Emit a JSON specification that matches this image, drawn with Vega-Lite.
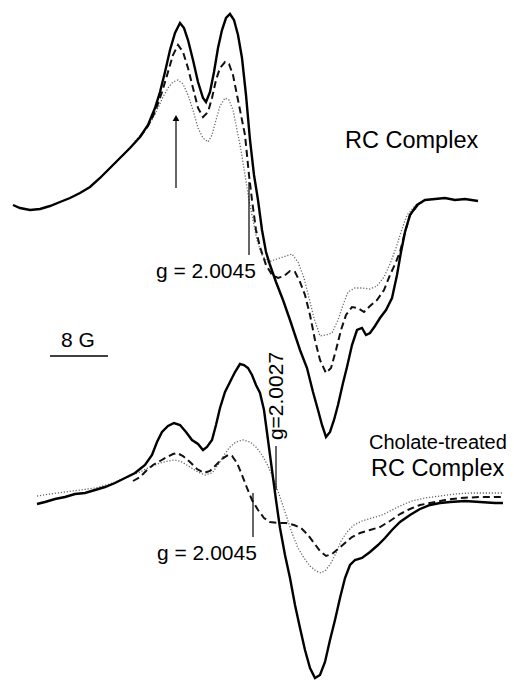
{
  "$schema": "https://vega.github.io/schema/vega-lite/v6.json",
  "width": 514,
  "height": 685,
  "autosize": {"type": "fit", "contains": "padding"},
  "padding": 0,
  "background": "white",
  "config": {"view": {"stroke": null}, "font": "Liberation Sans"},
  "datasets": {
    "traces": [
      {"spectrum": "RC", "trace": "solid", "field": 13, "signal": 205},
      {"spectrum": "RC", "trace": "solid", "field": 20, "signal": 208},
      {"spectrum": "RC", "trace": "solid", "field": 30, "signal": 210},
      {"spectrum": "RC", "trace": "solid", "field": 40, "signal": 209},
      {"spectrum": "RC", "trace": "solid", "field": 50, "signal": 206},
      {"spectrum": "RC", "trace": "solid", "field": 60, "signal": 202},
      {"spectrum": "RC", "trace": "solid", "field": 70, "signal": 198},
      {"spectrum": "RC", "trace": "solid", "field": 80, "signal": 193},
      {"spectrum": "RC", "trace": "solid", "field": 90, "signal": 187},
      {"spectrum": "RC", "trace": "solid", "field": 100, "signal": 178},
      {"spectrum": "RC", "trace": "solid", "field": 110, "signal": 168},
      {"spectrum": "RC", "trace": "solid", "field": 120, "signal": 158},
      {"spectrum": "RC", "trace": "solid", "field": 130, "signal": 148},
      {"spectrum": "RC", "trace": "solid", "field": 140, "signal": 137},
      {"spectrum": "RC", "trace": "solid", "field": 148, "signal": 125},
      {"spectrum": "RC", "trace": "solid", "field": 155, "signal": 108},
      {"spectrum": "RC", "trace": "solid", "field": 160, "signal": 92},
      {"spectrum": "RC", "trace": "solid", "field": 165, "signal": 72},
      {"spectrum": "RC", "trace": "solid", "field": 170, "signal": 50},
      {"spectrum": "RC", "trace": "solid", "field": 175, "signal": 33},
      {"spectrum": "RC", "trace": "solid", "field": 180, "signal": 23},
      {"spectrum": "RC", "trace": "solid", "field": 184, "signal": 28},
      {"spectrum": "RC", "trace": "solid", "field": 188, "signal": 40},
      {"spectrum": "RC", "trace": "solid", "field": 193, "signal": 60},
      {"spectrum": "RC", "trace": "solid", "field": 198, "signal": 82},
      {"spectrum": "RC", "trace": "solid", "field": 203, "signal": 98},
      {"spectrum": "RC", "trace": "solid", "field": 206, "signal": 102},
      {"spectrum": "RC", "trace": "solid", "field": 210, "signal": 92},
      {"spectrum": "RC", "trace": "solid", "field": 214, "signal": 72},
      {"spectrum": "RC", "trace": "solid", "field": 218, "signal": 48},
      {"spectrum": "RC", "trace": "solid", "field": 222, "signal": 30},
      {"spectrum": "RC", "trace": "solid", "field": 226, "signal": 18},
      {"spectrum": "RC", "trace": "solid", "field": 230, "signal": 14},
      {"spectrum": "RC", "trace": "solid", "field": 234, "signal": 20},
      {"spectrum": "RC", "trace": "solid", "field": 238, "signal": 35},
      {"spectrum": "RC", "trace": "solid", "field": 242, "signal": 58},
      {"spectrum": "RC", "trace": "solid", "field": 246, "signal": 95},
      {"spectrum": "RC", "trace": "solid", "field": 250, "signal": 140},
      {"spectrum": "RC", "trace": "solid", "field": 254, "signal": 175},
      {"spectrum": "RC", "trace": "solid", "field": 258, "signal": 200},
      {"spectrum": "RC", "trace": "solid", "field": 262, "signal": 230},
      {"spectrum": "RC", "trace": "solid", "field": 266, "signal": 252},
      {"spectrum": "RC", "trace": "solid", "field": 270, "signal": 265},
      {"spectrum": "RC", "trace": "solid", "field": 276, "signal": 282},
      {"spectrum": "RC", "trace": "solid", "field": 283, "signal": 300},
      {"spectrum": "RC", "trace": "solid", "field": 290, "signal": 320},
      {"spectrum": "RC", "trace": "solid", "field": 295, "signal": 335},
      {"spectrum": "RC", "trace": "solid", "field": 300, "signal": 350},
      {"spectrum": "RC", "trace": "solid", "field": 307, "signal": 368},
      {"spectrum": "RC", "trace": "solid", "field": 313, "signal": 392},
      {"spectrum": "RC", "trace": "solid", "field": 318, "signal": 410},
      {"spectrum": "RC", "trace": "solid", "field": 322, "signal": 425},
      {"spectrum": "RC", "trace": "solid", "field": 326, "signal": 437},
      {"spectrum": "RC", "trace": "solid", "field": 330, "signal": 432},
      {"spectrum": "RC", "trace": "solid", "field": 334, "signal": 420},
      {"spectrum": "RC", "trace": "solid", "field": 338, "signal": 405},
      {"spectrum": "RC", "trace": "solid", "field": 343, "signal": 383},
      {"spectrum": "RC", "trace": "solid", "field": 347, "signal": 367},
      {"spectrum": "RC", "trace": "solid", "field": 352, "signal": 345},
      {"spectrum": "RC", "trace": "solid", "field": 357, "signal": 330},
      {"spectrum": "RC", "trace": "solid", "field": 362, "signal": 328},
      {"spectrum": "RC", "trace": "solid", "field": 366, "signal": 335},
      {"spectrum": "RC", "trace": "solid", "field": 370, "signal": 333},
      {"spectrum": "RC", "trace": "solid", "field": 375, "signal": 326},
      {"spectrum": "RC", "trace": "solid", "field": 380, "signal": 318},
      {"spectrum": "RC", "trace": "solid", "field": 386, "signal": 310},
      {"spectrum": "RC", "trace": "solid", "field": 392, "signal": 298},
      {"spectrum": "RC", "trace": "solid", "field": 397, "signal": 275},
      {"spectrum": "RC", "trace": "solid", "field": 401, "signal": 252},
      {"spectrum": "RC", "trace": "solid", "field": 405, "signal": 232},
      {"spectrum": "RC", "trace": "solid", "field": 410, "signal": 215},
      {"spectrum": "RC", "trace": "solid", "field": 417, "signal": 205},
      {"spectrum": "RC", "trace": "solid", "field": 425, "signal": 200},
      {"spectrum": "RC", "trace": "solid", "field": 435, "signal": 199},
      {"spectrum": "RC", "trace": "solid", "field": 445, "signal": 198},
      {"spectrum": "RC", "trace": "solid", "field": 455, "signal": 200},
      {"spectrum": "RC", "trace": "solid", "field": 465, "signal": 199},
      {"spectrum": "RC", "trace": "solid", "field": 478, "signal": 201},

      {"spectrum": "RC", "trace": "dashed", "field": 140, "signal": 137},
      {"spectrum": "RC", "trace": "dashed", "field": 148, "signal": 126},
      {"spectrum": "RC", "trace": "dashed", "field": 155, "signal": 112},
      {"spectrum": "RC", "trace": "dashed", "field": 162, "signal": 92},
      {"spectrum": "RC", "trace": "dashed", "field": 168, "signal": 72},
      {"spectrum": "RC", "trace": "dashed", "field": 173, "signal": 55},
      {"spectrum": "RC", "trace": "dashed", "field": 178, "signal": 45},
      {"spectrum": "RC", "trace": "dashed", "field": 183, "signal": 52},
      {"spectrum": "RC", "trace": "dashed", "field": 188, "signal": 68},
      {"spectrum": "RC", "trace": "dashed", "field": 193, "signal": 88},
      {"spectrum": "RC", "trace": "dashed", "field": 198, "signal": 108},
      {"spectrum": "RC", "trace": "dashed", "field": 203, "signal": 117},
      {"spectrum": "RC", "trace": "dashed", "field": 208, "signal": 112},
      {"spectrum": "RC", "trace": "dashed", "field": 212, "signal": 98},
      {"spectrum": "RC", "trace": "dashed", "field": 216, "signal": 80},
      {"spectrum": "RC", "trace": "dashed", "field": 220, "signal": 68},
      {"spectrum": "RC", "trace": "dashed", "field": 225, "signal": 62},
      {"spectrum": "RC", "trace": "dashed", "field": 229, "signal": 64},
      {"spectrum": "RC", "trace": "dashed", "field": 233, "signal": 75},
      {"spectrum": "RC", "trace": "dashed", "field": 237, "signal": 95},
      {"spectrum": "RC", "trace": "dashed", "field": 241, "signal": 115},
      {"spectrum": "RC", "trace": "dashed", "field": 245, "signal": 135},
      {"spectrum": "RC", "trace": "dashed", "field": 249, "signal": 175},
      {"spectrum": "RC", "trace": "dashed", "field": 252, "signal": 200},
      {"spectrum": "RC", "trace": "dashed", "field": 256, "signal": 230},
      {"spectrum": "RC", "trace": "dashed", "field": 260, "signal": 247},
      {"spectrum": "RC", "trace": "dashed", "field": 266, "signal": 265},
      {"spectrum": "RC", "trace": "dashed", "field": 272, "signal": 275},
      {"spectrum": "RC", "trace": "dashed", "field": 278, "signal": 278},
      {"spectrum": "RC", "trace": "dashed", "field": 284, "signal": 276},
      {"spectrum": "RC", "trace": "dashed", "field": 290, "signal": 271},
      {"spectrum": "RC", "trace": "dashed", "field": 295, "signal": 272},
      {"spectrum": "RC", "trace": "dashed", "field": 300, "signal": 282},
      {"spectrum": "RC", "trace": "dashed", "field": 305, "signal": 295},
      {"spectrum": "RC", "trace": "dashed", "field": 310, "signal": 315},
      {"spectrum": "RC", "trace": "dashed", "field": 315, "signal": 340},
      {"spectrum": "RC", "trace": "dashed", "field": 320, "signal": 360},
      {"spectrum": "RC", "trace": "dashed", "field": 326, "signal": 373},
      {"spectrum": "RC", "trace": "dashed", "field": 331, "signal": 368},
      {"spectrum": "RC", "trace": "dashed", "field": 336, "signal": 350},
      {"spectrum": "RC", "trace": "dashed", "field": 341, "signal": 330},
      {"spectrum": "RC", "trace": "dashed", "field": 346, "signal": 315},
      {"spectrum": "RC", "trace": "dashed", "field": 352, "signal": 307},
      {"spectrum": "RC", "trace": "dashed", "field": 358, "signal": 308},
      {"spectrum": "RC", "trace": "dashed", "field": 364, "signal": 312},
      {"spectrum": "RC", "trace": "dashed", "field": 370, "signal": 306},
      {"spectrum": "RC", "trace": "dashed", "field": 377, "signal": 300},
      {"spectrum": "RC", "trace": "dashed", "field": 384, "signal": 290},
      {"spectrum": "RC", "trace": "dashed", "field": 390, "signal": 275},
      {"spectrum": "RC", "trace": "dashed", "field": 396, "signal": 262},
      {"spectrum": "RC", "trace": "dashed", "field": 400, "signal": 252},
      {"spectrum": "RC", "trace": "dashed", "field": 405, "signal": 232},
      {"spectrum": "RC", "trace": "dashed", "field": 410, "signal": 215},
      {"spectrum": "RC", "trace": "dashed", "field": 418, "signal": 205},

      {"spectrum": "RC", "trace": "dotted", "field": 135, "signal": 141},
      {"spectrum": "RC", "trace": "dotted", "field": 145, "signal": 130},
      {"spectrum": "RC", "trace": "dotted", "field": 152, "signal": 120},
      {"spectrum": "RC", "trace": "dotted", "field": 158, "signal": 108},
      {"spectrum": "RC", "trace": "dotted", "field": 163, "signal": 97},
      {"spectrum": "RC", "trace": "dotted", "field": 168, "signal": 88},
      {"spectrum": "RC", "trace": "dotted", "field": 173, "signal": 82},
      {"spectrum": "RC", "trace": "dotted", "field": 178, "signal": 80},
      {"spectrum": "RC", "trace": "dotted", "field": 183, "signal": 84},
      {"spectrum": "RC", "trace": "dotted", "field": 188, "signal": 95},
      {"spectrum": "RC", "trace": "dotted", "field": 193, "signal": 110},
      {"spectrum": "RC", "trace": "dotted", "field": 198, "signal": 128},
      {"spectrum": "RC", "trace": "dotted", "field": 203, "signal": 138},
      {"spectrum": "RC", "trace": "dotted", "field": 208, "signal": 142},
      {"spectrum": "RC", "trace": "dotted", "field": 212, "signal": 135},
      {"spectrum": "RC", "trace": "dotted", "field": 216, "signal": 120},
      {"spectrum": "RC", "trace": "dotted", "field": 220, "signal": 106},
      {"spectrum": "RC", "trace": "dotted", "field": 225, "signal": 98},
      {"spectrum": "RC", "trace": "dotted", "field": 229, "signal": 100},
      {"spectrum": "RC", "trace": "dotted", "field": 233, "signal": 110},
      {"spectrum": "RC", "trace": "dotted", "field": 237, "signal": 130},
      {"spectrum": "RC", "trace": "dotted", "field": 241, "signal": 150},
      {"spectrum": "RC", "trace": "dotted", "field": 245, "signal": 175},
      {"spectrum": "RC", "trace": "dotted", "field": 249, "signal": 200},
      {"spectrum": "RC", "trace": "dotted", "field": 253, "signal": 220},
      {"spectrum": "RC", "trace": "dotted", "field": 257, "signal": 240},
      {"spectrum": "RC", "trace": "dotted", "field": 262, "signal": 255},
      {"spectrum": "RC", "trace": "dotted", "field": 268, "signal": 262},
      {"spectrum": "RC", "trace": "dotted", "field": 274, "signal": 260},
      {"spectrum": "RC", "trace": "dotted", "field": 280, "signal": 258},
      {"spectrum": "RC", "trace": "dotted", "field": 286, "signal": 256},
      {"spectrum": "RC", "trace": "dotted", "field": 292, "signal": 254},
      {"spectrum": "RC", "trace": "dotted", "field": 298, "signal": 262},
      {"spectrum": "RC", "trace": "dotted", "field": 304, "signal": 278},
      {"spectrum": "RC", "trace": "dotted", "field": 309, "signal": 298},
      {"spectrum": "RC", "trace": "dotted", "field": 314, "signal": 318},
      {"spectrum": "RC", "trace": "dotted", "field": 320, "signal": 336},
      {"spectrum": "RC", "trace": "dotted", "field": 326, "signal": 335},
      {"spectrum": "RC", "trace": "dotted", "field": 332, "signal": 333},
      {"spectrum": "RC", "trace": "dotted", "field": 338, "signal": 320},
      {"spectrum": "RC", "trace": "dotted", "field": 343, "signal": 305},
      {"spectrum": "RC", "trace": "dotted", "field": 348, "signal": 292},
      {"spectrum": "RC", "trace": "dotted", "field": 355, "signal": 288},
      {"spectrum": "RC", "trace": "dotted", "field": 362, "signal": 288},
      {"spectrum": "RC", "trace": "dotted", "field": 370, "signal": 289},
      {"spectrum": "RC", "trace": "dotted", "field": 377, "signal": 286},
      {"spectrum": "RC", "trace": "dotted", "field": 384, "signal": 277},
      {"spectrum": "RC", "trace": "dotted", "field": 390, "signal": 264},
      {"spectrum": "RC", "trace": "dotted", "field": 396, "signal": 248},
      {"spectrum": "RC", "trace": "dotted", "field": 401, "signal": 232},
      {"spectrum": "RC", "trace": "dotted", "field": 407, "signal": 215},
      {"spectrum": "RC", "trace": "dotted", "field": 414, "signal": 207},
      {"spectrum": "RC", "trace": "dotted", "field": 422, "signal": 203},

      {"spectrum": "Cholate", "trace": "solid", "field": 37, "signal": 504},
      {"spectrum": "Cholate", "trace": "solid", "field": 45, "signal": 502},
      {"spectrum": "Cholate", "trace": "solid", "field": 55, "signal": 499},
      {"spectrum": "Cholate", "trace": "solid", "field": 65, "signal": 497},
      {"spectrum": "Cholate", "trace": "solid", "field": 75, "signal": 494},
      {"spectrum": "Cholate", "trace": "solid", "field": 85, "signal": 493},
      {"spectrum": "Cholate", "trace": "solid", "field": 95, "signal": 490},
      {"spectrum": "Cholate", "trace": "solid", "field": 105, "signal": 487},
      {"spectrum": "Cholate", "trace": "solid", "field": 115, "signal": 483},
      {"spectrum": "Cholate", "trace": "solid", "field": 125, "signal": 478},
      {"spectrum": "Cholate", "trace": "solid", "field": 135, "signal": 473},
      {"spectrum": "Cholate", "trace": "solid", "field": 145, "signal": 465},
      {"spectrum": "Cholate", "trace": "solid", "field": 152, "signal": 455},
      {"spectrum": "Cholate", "trace": "solid", "field": 157, "signal": 442},
      {"spectrum": "Cholate", "trace": "solid", "field": 162, "signal": 432},
      {"spectrum": "Cholate", "trace": "solid", "field": 168, "signal": 426},
      {"spectrum": "Cholate", "trace": "solid", "field": 174, "signal": 423},
      {"spectrum": "Cholate", "trace": "solid", "field": 180, "signal": 425},
      {"spectrum": "Cholate", "trace": "solid", "field": 186, "signal": 432},
      {"spectrum": "Cholate", "trace": "solid", "field": 192, "signal": 440},
      {"spectrum": "Cholate", "trace": "solid", "field": 198, "signal": 444},
      {"spectrum": "Cholate", "trace": "solid", "field": 203, "signal": 450},
      {"spectrum": "Cholate", "trace": "solid", "field": 207, "signal": 447},
      {"spectrum": "Cholate", "trace": "solid", "field": 212, "signal": 440},
      {"spectrum": "Cholate", "trace": "solid", "field": 216, "signal": 425},
      {"spectrum": "Cholate", "trace": "solid", "field": 220, "signal": 408},
      {"spectrum": "Cholate", "trace": "solid", "field": 225, "signal": 392},
      {"spectrum": "Cholate", "trace": "solid", "field": 230, "signal": 382},
      {"spectrum": "Cholate", "trace": "solid", "field": 235, "signal": 372},
      {"spectrum": "Cholate", "trace": "solid", "field": 240, "signal": 364},
      {"spectrum": "Cholate", "trace": "solid", "field": 244, "signal": 365},
      {"spectrum": "Cholate", "trace": "solid", "field": 248, "signal": 368},
      {"spectrum": "Cholate", "trace": "solid", "field": 252, "signal": 375},
      {"spectrum": "Cholate", "trace": "solid", "field": 256, "signal": 385},
      {"spectrum": "Cholate", "trace": "solid", "field": 260, "signal": 393},
      {"spectrum": "Cholate", "trace": "solid", "field": 264, "signal": 410},
      {"spectrum": "Cholate", "trace": "solid", "field": 268, "signal": 440},
      {"spectrum": "Cholate", "trace": "solid", "field": 272, "signal": 470},
      {"spectrum": "Cholate", "trace": "solid", "field": 276, "signal": 500},
      {"spectrum": "Cholate", "trace": "solid", "field": 280, "signal": 528},
      {"spectrum": "Cholate", "trace": "solid", "field": 285, "signal": 555},
      {"spectrum": "Cholate", "trace": "solid", "field": 290, "signal": 578},
      {"spectrum": "Cholate", "trace": "solid", "field": 295, "signal": 605},
      {"spectrum": "Cholate", "trace": "solid", "field": 300, "signal": 628},
      {"spectrum": "Cholate", "trace": "solid", "field": 305, "signal": 650},
      {"spectrum": "Cholate", "trace": "solid", "field": 310, "signal": 668},
      {"spectrum": "Cholate", "trace": "solid", "field": 315, "signal": 678},
      {"spectrum": "Cholate", "trace": "solid", "field": 320, "signal": 675},
      {"spectrum": "Cholate", "trace": "solid", "field": 325, "signal": 662},
      {"spectrum": "Cholate", "trace": "solid", "field": 330, "signal": 640},
      {"spectrum": "Cholate", "trace": "solid", "field": 335, "signal": 620},
      {"spectrum": "Cholate", "trace": "solid", "field": 340, "signal": 598},
      {"spectrum": "Cholate", "trace": "solid", "field": 345, "signal": 578},
      {"spectrum": "Cholate", "trace": "solid", "field": 350, "signal": 565},
      {"spectrum": "Cholate", "trace": "solid", "field": 355, "signal": 560},
      {"spectrum": "Cholate", "trace": "solid", "field": 362, "signal": 558},
      {"spectrum": "Cholate", "trace": "solid", "field": 370, "signal": 552},
      {"spectrum": "Cholate", "trace": "solid", "field": 378, "signal": 545},
      {"spectrum": "Cholate", "trace": "solid", "field": 385, "signal": 538},
      {"spectrum": "Cholate", "trace": "solid", "field": 392, "signal": 530},
      {"spectrum": "Cholate", "trace": "solid", "field": 400, "signal": 522},
      {"spectrum": "Cholate", "trace": "solid", "field": 410, "signal": 515},
      {"spectrum": "Cholate", "trace": "solid", "field": 420, "signal": 509},
      {"spectrum": "Cholate", "trace": "solid", "field": 430, "signal": 505},
      {"spectrum": "Cholate", "trace": "solid", "field": 440, "signal": 503},
      {"spectrum": "Cholate", "trace": "solid", "field": 450, "signal": 502},
      {"spectrum": "Cholate", "trace": "solid", "field": 465, "signal": 501},
      {"spectrum": "Cholate", "trace": "solid", "field": 480, "signal": 502},
      {"spectrum": "Cholate", "trace": "solid", "field": 495, "signal": 503},
      {"spectrum": "Cholate", "trace": "solid", "field": 503, "signal": 503},

      {"spectrum": "Cholate", "trace": "dashed", "field": 133, "signal": 481},
      {"spectrum": "Cholate", "trace": "dashed", "field": 140, "signal": 477},
      {"spectrum": "Cholate", "trace": "dashed", "field": 147, "signal": 470},
      {"spectrum": "Cholate", "trace": "dashed", "field": 153, "signal": 465},
      {"spectrum": "Cholate", "trace": "dashed", "field": 160, "signal": 461},
      {"spectrum": "Cholate", "trace": "dashed", "field": 167, "signal": 457},
      {"spectrum": "Cholate", "trace": "dashed", "field": 173, "signal": 454},
      {"spectrum": "Cholate", "trace": "dashed", "field": 177, "signal": 453},
      {"spectrum": "Cholate", "trace": "dashed", "field": 183, "signal": 456},
      {"spectrum": "Cholate", "trace": "dashed", "field": 190, "signal": 462},
      {"spectrum": "Cholate", "trace": "dashed", "field": 197, "signal": 469},
      {"spectrum": "Cholate", "trace": "dashed", "field": 204, "signal": 473},
      {"spectrum": "Cholate", "trace": "dashed", "field": 210, "signal": 471},
      {"spectrum": "Cholate", "trace": "dashed", "field": 216, "signal": 465},
      {"spectrum": "Cholate", "trace": "dashed", "field": 222, "signal": 459},
      {"spectrum": "Cholate", "trace": "dashed", "field": 228, "signal": 455},
      {"spectrum": "Cholate", "trace": "dashed", "field": 232, "signal": 456},
      {"spectrum": "Cholate", "trace": "dashed", "field": 237, "signal": 463},
      {"spectrum": "Cholate", "trace": "dashed", "field": 242, "signal": 475},
      {"spectrum": "Cholate", "trace": "dashed", "field": 247, "signal": 488},
      {"spectrum": "Cholate", "trace": "dashed", "field": 252, "signal": 500},
      {"spectrum": "Cholate", "trace": "dashed", "field": 258, "signal": 510},
      {"spectrum": "Cholate", "trace": "dashed", "field": 264, "signal": 518},
      {"spectrum": "Cholate", "trace": "dashed", "field": 270, "signal": 522},
      {"spectrum": "Cholate", "trace": "dashed", "field": 278, "signal": 523},
      {"spectrum": "Cholate", "trace": "dashed", "field": 286, "signal": 523},
      {"spectrum": "Cholate", "trace": "dashed", "field": 294, "signal": 525},
      {"spectrum": "Cholate", "trace": "dashed", "field": 301, "signal": 528},
      {"spectrum": "Cholate", "trace": "dashed", "field": 308, "signal": 535},
      {"spectrum": "Cholate", "trace": "dashed", "field": 314, "signal": 543},
      {"spectrum": "Cholate", "trace": "dashed", "field": 320, "signal": 551},
      {"spectrum": "Cholate", "trace": "dashed", "field": 326, "signal": 556},
      {"spectrum": "Cholate", "trace": "dashed", "field": 332, "signal": 554},
      {"spectrum": "Cholate", "trace": "dashed", "field": 338, "signal": 549},
      {"spectrum": "Cholate", "trace": "dashed", "field": 345, "signal": 543},
      {"spectrum": "Cholate", "trace": "dashed", "field": 352, "signal": 537},
      {"spectrum": "Cholate", "trace": "dashed", "field": 360, "signal": 533},
      {"spectrum": "Cholate", "trace": "dashed", "field": 370, "signal": 530},
      {"spectrum": "Cholate", "trace": "dashed", "field": 380, "signal": 527},
      {"spectrum": "Cholate", "trace": "dashed", "field": 390, "signal": 521},
      {"spectrum": "Cholate", "trace": "dashed", "field": 400, "signal": 514},
      {"spectrum": "Cholate", "trace": "dashed", "field": 410, "signal": 509},
      {"spectrum": "Cholate", "trace": "dashed", "field": 420, "signal": 505},
      {"spectrum": "Cholate", "trace": "dashed", "field": 430, "signal": 503},
      {"spectrum": "Cholate", "trace": "dashed", "field": 445, "signal": 500},
      {"spectrum": "Cholate", "trace": "dashed", "field": 460, "signal": 498},
      {"spectrum": "Cholate", "trace": "dashed", "field": 480, "signal": 497},
      {"spectrum": "Cholate", "trace": "dashed", "field": 503, "signal": 497},

      {"spectrum": "Cholate", "trace": "dotted", "field": 37, "signal": 496},
      {"spectrum": "Cholate", "trace": "dotted", "field": 50, "signal": 494},
      {"spectrum": "Cholate", "trace": "dotted", "field": 65, "signal": 492},
      {"spectrum": "Cholate", "trace": "dotted", "field": 80, "signal": 490},
      {"spectrum": "Cholate", "trace": "dotted", "field": 95, "signal": 488},
      {"spectrum": "Cholate", "trace": "dotted", "field": 110, "signal": 484},
      {"spectrum": "Cholate", "trace": "dotted", "field": 125, "signal": 478},
      {"spectrum": "Cholate", "trace": "dotted", "field": 140, "signal": 472},
      {"spectrum": "Cholate", "trace": "dotted", "field": 150, "signal": 467},
      {"spectrum": "Cholate", "trace": "dotted", "field": 160, "signal": 463},
      {"spectrum": "Cholate", "trace": "dotted", "field": 168, "signal": 461},
      {"spectrum": "Cholate", "trace": "dotted", "field": 175, "signal": 460},
      {"spectrum": "Cholate", "trace": "dotted", "field": 182, "signal": 462},
      {"spectrum": "Cholate", "trace": "dotted", "field": 190, "signal": 467},
      {"spectrum": "Cholate", "trace": "dotted", "field": 198, "signal": 472},
      {"spectrum": "Cholate", "trace": "dotted", "field": 205, "signal": 475},
      {"spectrum": "Cholate", "trace": "dotted", "field": 212, "signal": 473},
      {"spectrum": "Cholate", "trace": "dotted", "field": 218, "signal": 465},
      {"spectrum": "Cholate", "trace": "dotted", "field": 224, "signal": 455},
      {"spectrum": "Cholate", "trace": "dotted", "field": 230, "signal": 447},
      {"spectrum": "Cholate", "trace": "dotted", "field": 236, "signal": 442},
      {"spectrum": "Cholate", "trace": "dotted", "field": 243, "signal": 440},
      {"spectrum": "Cholate", "trace": "dotted", "field": 250, "signal": 442},
      {"spectrum": "Cholate", "trace": "dotted", "field": 256, "signal": 447},
      {"spectrum": "Cholate", "trace": "dotted", "field": 262, "signal": 455},
      {"spectrum": "Cholate", "trace": "dotted", "field": 268, "signal": 466},
      {"spectrum": "Cholate", "trace": "dotted", "field": 274, "signal": 480},
      {"spectrum": "Cholate", "trace": "dotted", "field": 280, "signal": 497},
      {"spectrum": "Cholate", "trace": "dotted", "field": 286, "signal": 515},
      {"spectrum": "Cholate", "trace": "dotted", "field": 292, "signal": 533},
      {"spectrum": "Cholate", "trace": "dotted", "field": 298, "signal": 548},
      {"spectrum": "Cholate", "trace": "dotted", "field": 304, "signal": 558},
      {"spectrum": "Cholate", "trace": "dotted", "field": 310, "signal": 566},
      {"spectrum": "Cholate", "trace": "dotted", "field": 316, "signal": 571},
      {"spectrum": "Cholate", "trace": "dotted", "field": 321, "signal": 573},
      {"spectrum": "Cholate", "trace": "dotted", "field": 326, "signal": 570},
      {"spectrum": "Cholate", "trace": "dotted", "field": 331, "signal": 563},
      {"spectrum": "Cholate", "trace": "dotted", "field": 336, "signal": 553},
      {"spectrum": "Cholate", "trace": "dotted", "field": 341, "signal": 541},
      {"spectrum": "Cholate", "trace": "dotted", "field": 347, "signal": 532},
      {"spectrum": "Cholate", "trace": "dotted", "field": 354, "signal": 525},
      {"spectrum": "Cholate", "trace": "dotted", "field": 362, "signal": 521},
      {"spectrum": "Cholate", "trace": "dotted", "field": 372, "signal": 518},
      {"spectrum": "Cholate", "trace": "dotted", "field": 382, "signal": 515},
      {"spectrum": "Cholate", "trace": "dotted", "field": 392, "signal": 510},
      {"spectrum": "Cholate", "trace": "dotted", "field": 402, "signal": 505},
      {"spectrum": "Cholate", "trace": "dotted", "field": 412, "signal": 501},
      {"spectrum": "Cholate", "trace": "dotted", "field": 425, "signal": 498},
      {"spectrum": "Cholate", "trace": "dotted", "field": 440, "signal": 496},
      {"spectrum": "Cholate", "trace": "dotted", "field": 455, "signal": 494},
      {"spectrum": "Cholate", "trace": "dotted", "field": 470, "signal": 493},
      {"spectrum": "Cholate", "trace": "dotted", "field": 485, "signal": 493},
      {"spectrum": "Cholate", "trace": "dotted", "field": 503, "signal": 493}
    ],
    "markers": [
      {"name": "g2.0045 top", "field": 249, "top": 182, "bottom": 255},
      {"name": "arrow", "field": 176, "top": 120, "bottom": 188},
      {"name": "g2.0027", "field": 276, "top": 446, "bottom": 490},
      {"name": "g2.0045 bottom", "field": 253, "top": 493, "bottom": 537}
    ],
    "scalebar": [
      {"start": 50, "end": 108, "signal": 356}
    ],
    "arrowhead": [
      {"field": 176, "signal": 118}
    ],
    "bigLabels": [
      {"text": "RC Complex", "field": 345, "signal": 141},
      {"text": "RC Complex", "field": 371, "signal": 469}
    ],
    "midLabels": [
      {"text": "g = 2.0045", "field": 156, "signal": 272},
      {"text": "g = 2.0045", "field": 157, "signal": 554},
      {"text": "8 G", "field": 61, "signal": 341}
    ],
    "smallLabels": [
      {"text": "Cholate-treated", "field": 369, "signal": 443}
    ],
    "rotLabels": [
      {"text": "g=2.0027", "field": 277, "signal": 396}
    ]
  },
  "encoding": {
    "x": {"field": "field", "type": "quantitative", "scale": {"domain": [0, 514], "nice": false, "zero": false}, "axis": null},
    "y": {"field": "signal", "type": "quantitative", "scale": {"domain": [0, 685], "reverse": true, "nice": false, "zero": false}, "axis": null}
  },
  "layer": [
    {
      "data": {"name": "traces"},
      "transform": [{"filter": "datum.trace === 'dotted'"}],
      "mark": {"type": "line", "color": "#666", "strokeWidth": 1.3, "strokeDash": [1.2, 1.8]},
      "encoding": {"detail": {"field": "spectrum"}}
    },
    {
      "data": {"name": "traces"},
      "transform": [{"filter": "datum.trace === 'dashed'"}],
      "mark": {"type": "line", "color": "#111", "strokeWidth": 2, "strokeDash": [7, 4]},
      "encoding": {"detail": {"field": "spectrum"}}
    },
    {
      "data": {"name": "traces"},
      "transform": [{"filter": "datum.trace === 'solid'"}],
      "mark": {"type": "line", "color": "#000", "strokeWidth": 2.4},
      "encoding": {"detail": {"field": "spectrum"}}
    },
    {
      "data": {"name": "markers"},
      "mark": {"type": "rule", "color": "#000", "strokeWidth": 1.2},
      "encoding": {
        "y": {"field": "top", "type": "quantitative"},
        "y2": {"field": "bottom"}
      }
    },
    {
      "data": {"name": "scalebar"},
      "mark": {"type": "rule", "color": "#000", "strokeWidth": 1.5},
      "encoding": {
        "x": {"field": "start", "type": "quantitative"},
        "x2": {"field": "end"}
      }
    },
    {
      "data": {"name": "arrowhead"},
      "mark": {"type": "point", "shape": "triangle-up", "filled": true, "color": "#000", "size": 45, "opacity": 1}
    },
    {
      "data": {"name": "bigLabels"},
      "mark": {"type": "text", "align": "left", "baseline": "middle", "fontSize": 23.5, "font": "Liberation Sans", "color": "#000"},
      "encoding": {"text": {"field": "text"}}
    },
    {
      "data": {"name": "midLabels"},
      "mark": {"type": "text", "align": "left", "baseline": "middle", "fontSize": 21, "font": "Liberation Sans", "color": "#000"},
      "encoding": {"text": {"field": "text"}}
    },
    {
      "data": {"name": "smallLabels"},
      "mark": {"type": "text", "align": "left", "baseline": "middle", "fontSize": 20, "font": "Liberation Sans", "color": "#000"},
      "encoding": {"text": {"field": "text"}}
    },
    {
      "data": {"name": "rotLabels"},
      "mark": {"type": "text", "align": "center", "baseline": "middle", "angle": 270, "fontSize": 21, "font": "Liberation Sans", "color": "#000"},
      "encoding": {"text": {"field": "text"}}
    }
  ]
}
